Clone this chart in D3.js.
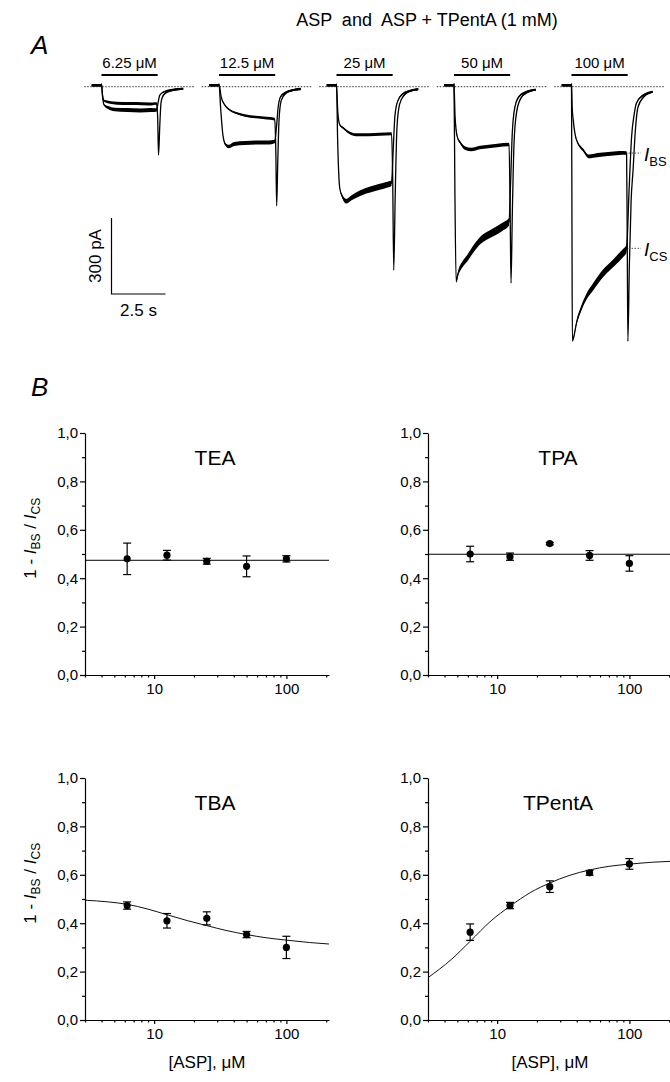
<!DOCTYPE html>
<html>
<head>
<meta charset="utf-8">
<script src="https://cdn.jsdelivr.net/npm/d3@7"></script>
<style>
	body { margin: 0; background: #fff; }
	svg text { font-family: "Liberation Sans", Arial, sans-serif; fill: #000; }
</style>
</head>
<body>
<svg id="fig" width="670" height="1082"></svg>
<script>
// ---------- data ----------
var concLabels = ["6.25", "12.5", "25", "50", "100"];
var concValues = [6.25, 12.5, 25, 50, 100];
var applicationSeconds = 2.6;
var baselineWindow = [-0.8, 4.3];

// traces: [time (s) from ASP onset, current (pA), noise peak-to-peak (pA)]
var controlTraces = [
	[[-0.45,6,10],[-0.02,6,10],[0,10,0],[0.05,-40,0],[0.12,-72,6],[0.3,-82,12],[0.6,-90,14],[1.2,-92,16],[1.8,-94,16],[2.3,-92,16],[2.55,-92,14],[2.62,-62,0],[2.7,-33,0],[2.9,-20,6],[3.3,-12,8],[3.78,-8,8]],
	[[-0.45,6,10],[-0.02,6,10],[0,10,0],[0.08,-90,0],[0.18,-190,0],[0.3,-228,10],[0.45,-236,14],[0.7,-226,16],[1.2,-222,16],[1.8,-220,16],[2.3,-220,16],[2.58,-216,14],[2.66,-160,0],[2.74,-80,0],[2.85,-40,6],[3.1,-22,8],[3.4,-14,8],[3.78,-10,8]],
	[[-0.45,6,10],[-0.02,6,10],[0,10,0],[0.05,-200,0],[0.15,-400,0],[0.25,-430,12],[0.45,-452,18],[0.7,-438,20],[1.1,-420,22],[1.6,-405,24],[2.0,-395,24],[2.3,-388,24],[2.55,-380,22],[2.62,-260,0],[2.7,-120,0],[2.82,-60,6],[3.05,-30,8],[3.4,-16,8],[3.78,-10,8]],
	[[-0.45,6,10],[-0.02,6,10],[0,10,0],[0.04,-400,0],[0.1,-770,0],[0.18,-740,16],[0.4,-700,24],[0.62,-676,26],[0.9,-640,28],[1.24,-605,30],[1.6,-585,30],[2.0,-566,32],[2.3,-550,32],[2.55,-533,30],[2.62,-380,0],[2.7,-180,0],[2.82,-80,6],[3.0,-40,8],[3.3,-22,8],[3.78,-12,8]],
	[[-0.45,6,10],[-0.02,6,10],[0,10,0],[0.02,-500,0],[0.04,-1005,0],[0.1,-990,6],[0.23,-933,14],[0.45,-875,20],[0.69,-829,24],[1.0,-790,28],[1.46,-737,30],[1.8,-708,30],[2.08,-684,32],[2.35,-660,32],[2.55,-638,30],[2.66,-420,0],[2.78,-200,0],[2.9,-110,4],[3.0,-66,6],[3.3,-35,8],[3.75,-20,8]]
];
var blockedTraces = [
	[[-0.45,6,10],[-0.02,6,10],[0,10,0],[0.05,-35,0],[0.12,-55,6],[0.4,-62,10],[1.0,-66,12],[1.6,-66,12],[2.2,-68,12],[2.55,-66,10],[2.6,-120,0],[2.64,-270,0],[2.7,-150,0],[2.76,-60,0],[2.9,-30,6],[3.2,-16,8],[3.78,-8,8]],
	[[-0.45,6,10],[-0.02,6,10],[0,10,0],[0.1,-40,0],[0.25,-70,4],[0.5,-92,6],[0.8,-104,8],[1.2,-114,10],[1.7,-120,10],[2.2,-124,10],[2.58,-128,10],[2.63,-250,0],[2.67,-470,0],[2.72,-300,0],[2.78,-130,0],[2.88,-55,4],[3.1,-26,6],[3.4,-14,8],[3.78,-8,8]],
	[[-0.45,6,10],[-0.02,6,10],[0,10,0],[0.06,-100,0],[0.15,-150,6],[0.3,-162,8],[0.6,-182,10],[0.9,-190,12],[1.5,-190,12],[2.0,-188,12],[2.55,-186,12],[2.6,-350,0],[2.65,-724,0],[2.72,-420,0],[2.8,-160,0],[2.92,-70,4],[3.15,-32,6],[3.45,-16,8],[3.78,-10,8]],
	[[-0.45,6,10],[-0.02,6,10],[0,10,0],[0.05,-120,0],[0.15,-197,6],[0.3,-222,10],[0.5,-242,14],[0.8,-248,14],[1.2,-240,14],[1.6,-236,14],[2.0,-232,14],[2.55,-228,14],[2.6,-500,0],[2.64,-775,0],[2.7,-500,0],[2.78,-220,0],[2.9,-100,4],[3.1,-45,6],[3.4,-22,8],[3.78,-12,8]],
	[[-0.45,6,10],[-0.02,6,10],[0,10,0],[0.03,-80,0],[0.08,-131,0],[0.23,-210,6],[0.54,-250,12],[0.8,-275,14],[1.2,-270,16],[1.7,-266,16],[2.2,-262,16],[2.55,-262,14],[2.58,-600,0],[2.61,-1005,0],[2.68,-700,0],[2.76,-450,0],[2.85,-330,0],[2.95,-180,0],[3.08,-80,4],[3.35,-40,6],[3.75,-20,8]]
];
var scaleBarPA = 300;
var scaleBarSeconds = 2.5;

// panel B: 1 - IBS/ICS against [ASP]
var teaMean = [0.48, 0.495, 0.47, 0.449, 0.48];
var teaSem = [0.065, 0.02, 0.012, 0.043, 0.013];
var teaFit = 0.474;
var tpaMean = [0.50, 0.489, 0.543, 0.494, 0.461];
var tpaSem = [0.032, 0.015, 0.005, 0.02, 0.032];
var tpaFit = 0.499;
var tbaMean = [0.473, 0.41, 0.42, 0.353, 0.30];
var tbaSem = [0.015, 0.03, 0.027, 0.013, 0.046];
var tpentaMean = [0.363, 0.473, 0.551, 0.608, 0.645];
var tpentaSem = [0.034, 0.013, 0.024, 0.01, 0.022];
var fitConc = [3, 4.5, 6.25, 9, 12.5, 18, 25, 35, 50, 70, 100, 150, 210];
var tbaFit = [0.495, 0.488, 0.478, 0.458, 0.435, 0.41, 0.39, 0.37, 0.353, 0.34, 0.33, 0.32, 0.314];
var tpentaFit = [0.175, 0.25, 0.325, 0.41, 0.47, 0.528, 0.566, 0.597, 0.62, 0.635, 0.644, 0.652, 0.656];

var xDomain = [3, 210];
var xMajor = [10, 100];
var xMinor = [3, 4, 5, 6, 7, 8, 9, 20, 30, 40, 50, 60, 70, 80, 90, 200];
var yMajor = [0, 0.2, 0.4, 0.6, 0.8, 1.0];
var yMinor = [0.1, 0.3, 0.5, 0.7, 0.9];

// ---------- drawing ----------
var svg = d3.select("#fig");

// Panel A
svg.append("text").attr("x", 31).attr("y", 54)
	.style("font-size", "26px").style("font-style", "italic").text("A");
svg.append("text").attr("x", 427).attr("y", 26).attr("text-anchor", "middle")
	.style("font-size", "18px").style("white-space", "pre")
	.text("ASP  and  ASP + TPentA (1 mM)");

var baseY = 86.7;
var yCur = d3.scaleLinear().domain([0, -scaleBarPA]).range([baseY, baseY + 76]);

concLabels.forEach(function (label, i) {
	var onset = 101.5 + i * 117.5;
	var xT = d3.scaleLinear().domain([0, scaleBarSeconds]).range([onset, onset + 54]);
	var g = svg.append("g").attr("class", "trace" + i);

	// zero-current line
	g.append("line")
		.attr("x1", xT(baselineWindow[0])).attr("x2", xT(baselineWindow[1]))
		.attr("y1", yCur(0)).attr("y2", yCur(0))
		.attr("stroke", "#333").attr("stroke-width", 1).attr("stroke-dasharray", "1.5,1.5");

	// application bar + label
	g.append("line")
		.attr("x1", xT(0)).attr("x2", xT(applicationSeconds))
		.attr("y1", 75).attr("y2", 75)
		.attr("stroke", "#000").attr("stroke-width", 2);
	var t = g.append("text").attr("x", (xT(0) + xT(applicationSeconds)) / 2).attr("y", 68)
		.attr("text-anchor", "middle").style("font-size", "15px");
	t.append("tspan").text(label + " ");
	t.append("tspan").text("\u03bcM");

	var line = d3.line().x(function (d) { return xT(d[0]); }).y(function (d) { return yCur(d[1]); })
		.curve(d3.curveMonotoneX);
	var band = d3.area().x(function (d) { return xT(d[0]); })
		.y0(function (d) { return yCur(d[1] - d[2] / 2); })
		.y1(function (d) { return yCur(d[1] + d[2] / 2); })
		.curve(d3.curveMonotoneX);

	[controlTraces[i], blockedTraces[i]].forEach(function (tr) {
		g.append("path").attr("d", band(tr)).attr("fill", "#000");
		g.append("path").attr("d", line(tr)).attr("fill", "none")
			.attr("stroke", "#000").attr("stroke-width", 1.3);
	});

	if (i === concLabels.length - 1) {
		var ends = [["BS", blockedTraces[i]], ["CS", controlTraces[i]]];
		ends.forEach(function (e) {
			var pt = e[1].filter(function (d) { return d[0] <= 2.55; }).pop();
			var yy = yCur(pt[1]);
			g.append("line").attr("x1", xT(pt[0]) + 2).attr("x2", 641)
				.attr("y1", yy).attr("y2", yy)
				.attr("stroke", "#555").attr("stroke-width", 1).attr("stroke-dasharray", "1.5,1.5");
			var lt = g.append("text").attr("x", 644).attr("y", yy + 8);
			lt.append("tspan").style("font-size", "19px").style("font-style", "italic").text("I");
			lt.append("tspan").style("font-size", "13px").attr("dy", 5).text(e[0]);
		});
	}
});

// scale bar
var sbX = 111.5, sbY = 294;
svg.append("path")
	.attr("d", "M" + sbX + "," + (sbY - (yCur(-scaleBarPA) - yCur(0))) + "V" + sbY + "H" + (sbX + 21.6 * scaleBarSeconds))
	.attr("fill", "none").attr("stroke", "#000").attr("stroke-width", 1.2);
svg.append("text").attr("transform", "translate(101," + (sbY - 38) + ") rotate(-90)")
	.attr("text-anchor", "middle").style("font-size", "17px").text(scaleBarPA + " pA");
svg.append("text").attr("x", sbX + 27).attr("y", 316).attr("text-anchor", "middle")
	.style("font-size", "17px").text(scaleBarSeconds + " s");

// Panel B
svg.append("text").attr("x", 31).attr("y", 396)
	.style("font-size", "26px").style("font-style", "italic").text("B");

function doseBlock(opt) {
	var x = d3.scaleLog().domain(xDomain).range([opt.left, opt.left + 244]);
	var y = d3.scaleLinear().domain([0, 1]).range([opt.top + 242, opt.top]);
	var g = svg.append("g");
	var comma = function (d) { return d3.format(".1f")(d).replace(".", ","); };

	g.append("g").attr("transform", "translate(" + opt.left + ",0)")
		.call(d3.axisLeft(y).tickValues(yMajor).tickFormat(comma).tickSize(5).tickSizeOuter(0).tickPadding(2));
	g.append("g").attr("transform", "translate(" + opt.left + ",0)")
		.call(d3.axisLeft(y).tickValues(yMinor).tickFormat("").tickSize(3))
		.select(".domain").remove();
	g.append("g").attr("transform", "translate(0," + y(0) + ")")
		.call(d3.axisBottom(x).tickValues(xMajor).tickFormat(d3.format("d")).tickSize(4).tickSizeOuter(0).tickPadding(4));
	g.append("g").attr("transform", "translate(0," + y(0) + ")")
		.call(d3.axisBottom(x).tickValues(xMinor).tickFormat("").tickSize(2.5))
		.select(".domain").remove();
	g.selectAll(".tick text").style("font-size", "15px").attr("fill", "#000");
	g.selectAll(".domain, .tick line").attr("stroke", "#000").attr("stroke-width", 1.2);

	g.append("text").attr("x", opt.left + 130).attr("y", opt.top + 32)
		.attr("text-anchor", "middle").style("font-size", "21px").text(opt.name);

	// fit
	if (opt.flat !== undefined) {
		g.append("line").attr("x1", x(xDomain[0])).attr("x2", x(xDomain[1]))
			.attr("y1", y(opt.flat)).attr("y2", y(opt.flat))
			.attr("stroke", "#000").attr("stroke-width", 1);
	} else {
		var fl = d3.line().x(function (d, i) { return x(fitConc[i]); }).y(function (d) { return y(d); })
			.curve(d3.curveMonotoneX);
		g.append("path").attr("d", fl(opt.curve)).attr("fill", "none")
			.attr("stroke", "#111").attr("stroke-width", 1);
	}

	// error bars and points
	var pts = g.selectAll("g.pt").data(opt.mean).enter().append("g").attr("class", "pt");
	pts.append("line")
		.attr("x1", function (d, i) { return x(concValues[i]); })
		.attr("x2", function (d, i) { return x(concValues[i]); })
		.attr("y1", function (d, i) { return y(d + opt.sem[i]); })
		.attr("y2", function (d, i) { return y(d - opt.sem[i]); })
		.attr("stroke", "#000").attr("stroke-width", 1.2);
	[1, -1].forEach(function (s) {
		pts.append("line")
			.attr("x1", function (d, i) { return x(concValues[i]) - 4; })
			.attr("x2", function (d, i) { return x(concValues[i]) + 4; })
			.attr("y1", function (d, i) { return y(d + s * opt.sem[i]); })
			.attr("y2", function (d, i) { return y(d + s * opt.sem[i]); })
			.attr("stroke", "#000").attr("stroke-width", 1.2);
	});
	pts.append("circle")
		.attr("cx", function (d, i) { return x(concValues[i]); })
		.attr("cy", function (d) { return y(d); })
		.attr("r", 3.6).attr("fill", "#000");

	if (opt.yLabel) {
		var yl = g.append("text")
			.attr("transform", "translate(36," + y(0.565) + ") rotate(-90)")
			.attr("text-anchor", "middle").style("font-size", "17px");
		yl.append("tspan").text("1 - ");
		yl.append("tspan").style("font-style", "italic").text("I");
		yl.append("tspan").attr("dy", 4).style("font-size", "12px").text("BS");
		yl.append("tspan").attr("dy", -4).text(" / ");
		yl.append("tspan").style("font-style", "italic").text("I");
		yl.append("tspan").attr("dy", 4).style("font-size", "12px").text("CS");
	}
	if (opt.xLabel) {
		var xl = g.append("text").attr("x", opt.left + 122).attr("y", y(0) + 48)
			.attr("text-anchor", "middle").style("font-size", "17px");
		xl.append("tspan").text("[ASP], ");
		xl.append("tspan").text("\u03bcM");
	}
}

doseBlock({ left: 85, top: 433, name: "TEA", mean: teaMean, sem: teaSem, flat: teaFit, yLabel: true });
doseBlock({ left: 428, top: 433, name: "TPA", mean: tpaMean, sem: tpaSem, flat: tpaFit });
doseBlock({ left: 85, top: 778, name: "TBA", mean: tbaMean, sem: tbaSem, curve: tbaFit, yLabel: true, xLabel: true });
doseBlock({ left: 428, top: 778, name: "TPentA", mean: tpentaMean, sem: tpentaSem, curve: tpentaFit, xLabel: true });
</script>
</body>
</html>
